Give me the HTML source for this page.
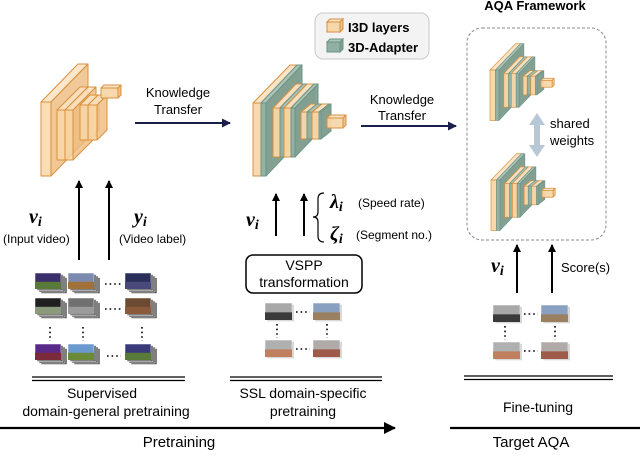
<!DOCTYPE html>
<html><head><meta charset="utf-8"><style>
html,body{margin:0;padding:0;background:#fff;}
svg{display:block;font-family:"Liberation Sans",sans-serif;}
.m{font-family:"Liberation Serif",serif;font-style:italic;font-weight:bold;}
</style></head><body>
<svg id="s" width="640" height="457" viewBox="0 0 640 457" xmlns="http://www.w3.org/2000/svg">
<defs>
<marker id="ah" markerWidth="8" markerHeight="8" refX="7" refY="4" orient="auto" markerUnits="userSpaceOnUse"><path d="M0,0 L8,4 L0,8 Z" fill="#000"/></marker>
<marker id="an" markerWidth="9" markerHeight="9" refX="8" refY="4.5" orient="auto" markerUnits="userSpaceOnUse"><path d="M0,0 L9,4.5 L0,9 Z" fill="#1b1f4b"/></marker>
<marker id="ab" markerWidth="12" markerHeight="12" refX="11" refY="6" orient="auto" markerUnits="userSpaceOnUse"><path d="M0,0 L12,6 L0,12 Z" fill="#000"/></marker>
</defs>
<g id="net1"></g>
<g id="net2"></g>
<use href="#net2" transform="translate(490,70) scale(0.69) translate(-253,-103)"/>
<use href="#net2" transform="translate(491,180) scale(0.69) translate(-253,-103)"/>

<rect x="315" y="13" width="114" height="46" rx="8" fill="#f3f3f3" stroke="#c8c8c8"/>
<rect x="327" y="22" width="13" height="10" fill="#f8d7a9" stroke="#d8913d"/>
<polygon points="327,22 330,19 343,19 340,22" fill="#fbe3c3" stroke="#d8913d"/>
<polygon points="340,22 343,19 343,29 340,32" fill="#eebf86" stroke="#d8913d"/>
<rect x="327" y="42" width="13" height="10" fill="#8fb0a3" stroke="#6e9488"/>
<polygon points="327,42 330,39 343,39 340,42" fill="#a9c4b8" stroke="#6e9488"/>
<polygon points="340,42 343,39 343,49 340,52" fill="#7c9e91" stroke="#6e9488"/>
<text x="348" y="32" font-size="13" font-weight="bold">I3D layers</text>
<text x="348" y="52" font-size="13" font-weight="bold">3D-Adapter</text>

<text x="535" y="10" font-size="13" font-weight="bold" text-anchor="middle">AQA Framework</text>
<rect x="467" y="28" width="139" height="212" rx="15" fill="none" stroke="#888" stroke-dasharray="3,2"/>
<rect x="534" y="124" width="6" height="22" fill="#b8c7d6"/>
<polygon points="537,113 545,125 529,125" fill="#b8c7d6"/>
<polygon points="537,157 545,145 529,145" fill="#b8c7d6"/>
<text x="550" y="128" font-size="13">shared</text>
<text x="550" y="145" font-size="13">weights</text>

<text x="178" y="97" font-size="13" text-anchor="middle">Knowledge</text>
<text x="178" y="114" font-size="13" text-anchor="middle">Transfer</text>
<line x1="135" y1="123" x2="230" y2="123" stroke="#1b1f4b" stroke-width="2" marker-end="url(#an)"/>
<text x="402" y="104" font-size="13" text-anchor="middle">Knowledge</text>
<text x="402" y="120" font-size="13" text-anchor="middle">Transfer</text>
<line x1="361" y1="126" x2="456" y2="126" stroke="#1b1f4b" stroke-width="2" marker-end="url(#an)"/>

<line x1="79" y1="260" x2="79" y2="181" stroke="#000" stroke-width="2" marker-end="url(#ah)"/>
<line x1="109" y1="260" x2="109" y2="181" stroke="#000" stroke-width="2" marker-end="url(#ah)"/>
<text x="29" y="223" font-size="20" class="m">v<tspan font-size="14" dy="3">i</tspan></text>
<text x="3" y="243" font-size="12">(Input video)</text>
<text x="134" y="223" font-size="20" class="m">y<tspan font-size="14" dy="3">i</tspan></text>
<text x="119" y="243" font-size="12">(Video label)</text>

<line x1="276" y1="236" x2="276" y2="194" stroke="#000" stroke-width="2" marker-end="url(#ah)"/>
<line x1="304" y1="236" x2="304" y2="194" stroke="#000" stroke-width="2" marker-end="url(#ah)"/>
<text x="246" y="226" font-size="20" class="m">v<tspan font-size="14" dy="3">i</tspan></text>
<path d="M324,193 Q318,193 318,199 L318,212 Q318,217 313,217 Q318,217 318,222 L318,236 Q318,242 324,242" fill="none" stroke="#000" stroke-width="1.2"/>
<text x="330" y="208" font-size="20" class="m">λ<tspan font-size="14" dy="3">i</tspan></text>
<text x="358" y="207" font-size="12">(Speed rate)</text>
<text x="330" y="240" font-size="20" class="m">ζ<tspan font-size="14" dy="3">i</tspan></text>
<text x="356" y="239" font-size="12">(Segment no.)</text>
<rect x="246" y="255" width="116" height="38" rx="7" fill="#fff" stroke="#000" stroke-width="1.5"/>
<text x="304" y="270" font-size="14" text-anchor="middle">VSPP</text>
<text x="304" y="287" font-size="14" text-anchor="middle">transformation</text>

<line x1="517" y1="293" x2="517" y2="245" stroke="#000" stroke-width="2" marker-end="url(#ah)"/>
<line x1="552" y1="293" x2="552" y2="245" stroke="#000" stroke-width="2" marker-end="url(#ah)"/>
<text x="491" y="272" font-size="20" class="m">v<tspan font-size="14" dy="3">i</tspan></text>
<text x="561" y="272" font-size="13">Score(s)</text>

<g id="thumbs"></g>

<g stroke="#000" stroke-width="1.3">
<line x1="32" y1="377" x2="185" y2="377"/><line x1="32" y1="380.5" x2="185" y2="380.5"/>
<line x1="230" y1="377" x2="382" y2="377"/><line x1="230" y1="380.5" x2="382" y2="380.5"/>
<line x1="464" y1="376" x2="613" y2="376"/><line x1="464" y1="379.5" x2="613" y2="379.5"/>
</g>
<text x="102" y="398" font-size="14" text-anchor="middle">Supervised</text>
<text x="106" y="416" font-size="14" text-anchor="middle">domain-general pretraining</text>
<text x="303" y="398" font-size="14" text-anchor="middle">SSL domain-specific</text>
<text x="303" y="416" font-size="14" text-anchor="middle">pretraining</text>
<text x="538" y="412" font-size="14" text-anchor="middle">Fine-tuning</text>
<line x1="0" y1="428" x2="395" y2="428" stroke="#000" stroke-width="2.2" marker-end="url(#ab)"/>
<text x="179" y="447" font-size="15" text-anchor="middle">Pretraining</text>
<line x1="450" y1="428" x2="640" y2="428" stroke="#000" stroke-width="2.2"/>
<text x="531" y="447" font-size="15" text-anchor="middle">Target  AQA</text>
</svg>
<script>
var NS="http://www.w3.org/2000/svg";
function el(p,t,a){var e=document.createElementNS(NS,t);for(var k in a)e.setAttribute(k,a[k]);p.appendChild(e);return e;}
var C={o:["#f8d7a9","#fbe3c3","#eebf86","#d8913d"],g:["#8fb0a3","#a9c4b8","#7c9e91","#6e9488"]};
function slab(p,x,y,w,h,dx,dy,c,op){var k=C[c];var g=el(p,"g",{"stroke":k[3],"stroke-width":"1","stroke-linejoin":"round","fill-opacity":op||0.95});
el(g,"polygon",{points:[x,y,x+dx,y-dy,x+w+dx,y-dy,x+w,y].join(","),fill:k[1]});
el(g,"polygon",{points:[x+w,y,x+w+dx,y-dy,x+w+dx,y+h-dy,x+w,y+h].join(","),fill:k[2]});
el(g,"rect",{x:x,y:y,width:w,height:h,fill:k[0]});}
var n1=document.getElementById("net1");
slab(n1,41,102,10,74,37,38,"o",0.85);
slab(n1,57,110,8,50,23,23,"o",0.85);slab(n1,65,110,8,50,23,23,"o",0.85);
slab(n1,80,105,9,35,10,10,"o",0.85);slab(n1,88,105,9,35,10,10,"o",0.85);
slab(n1,101,88,17,10,3,3,"o");
var n2=document.getElementById("net2");
slab(n2,253,103,8,73,37,38,"o");slab(n2,261,103,5,73,36,38,"g");
slab(n2,273,108,7,49,23,24,"o");slab(n2,280,108,4,49,23,24,"g");slab(n2,284,108,7,49,23,24,"o");slab(n2,291,108,4,49,23,24,"g");
slab(n2,301,112,6,27,10,8,"o");slab(n2,307,112,5,27,10,8,"g");slab(n2,312,112,7,27,10,8,"o");slab(n2,319,112,2,27,10,8,"g");
slab(n2,327,118,16,10,3,3,"o");
var th=document.getElementById("thumbs");
function thumb(x,y,w,h,c1,c2,stack,sc){for(var i=stack;i>=0;i--){el(th,"rect",{x:x+i*2,y:y+i*1.5,width:w,height:h,fill:i?(sc||"#555"):c1,stroke:"#fff","stroke-width":"0.5"});}
el(th,"rect",{x:x,y:y+h*0.55,width:w,height:h*0.45,fill:c2});}
var L=[[35,273,"#3a2f6a","#5a7a3a"],[68,273,"#7c8ab0","#a2703a"],[125,273,"#2a2f5a","#4a4a7a"],
[35,298,"#202020","#8a9a7a"],[68,298,"#707070","#9a9a9a"],[125,298,"#6a4a30","#8a5a3a"],
[35,344,"#5a2a8a","#7a2a3a"],[68,344,"#6a9ad0","#6a8a3a"],[125,344,"#3a3a7a","#5a7a3a"]];
L.forEach(function(a){thumb(a[0],a[1],26,16,a[2],a[3],3);});
function dots(x1,y1,x2,y2){el(th,"line",{x1:x1,y1:y1,x2:x2,y2:y2,stroke:"#000","stroke-width":"1.6","stroke-dasharray":"1.6,3"});}
dots(105,284,121,284);dots(105,309,121,309);dots(107,356,121,356);
dots(50,327,50,341);dots(83,327,83,341);dots(142,327,142,341);
function hands(ox,oy){var P=[[0,0,"#a8a8a8","#3a3a3a"],[48,0,"#8aa0c0","#9a8060"],[0,37,"#b0b0b0","#c08060"],[48,37,"#b0aaa8","#a05a4a"]];
P.forEach(function(p){thumb(ox+p[0],oy+p[1],27,17,p[2],p[3],1,"#ccc");});
dots(ox+31,oy+9,ox+45,oy+9);dots(ox+31,oy+46,ox+45,oy+46);dots(ox+12,oy+21,ox+12,oy+35);dots(ox+62,oy+21,ox+62,oy+35);}
hands(265,303);hands(493,305);
</script>
</body></html>
